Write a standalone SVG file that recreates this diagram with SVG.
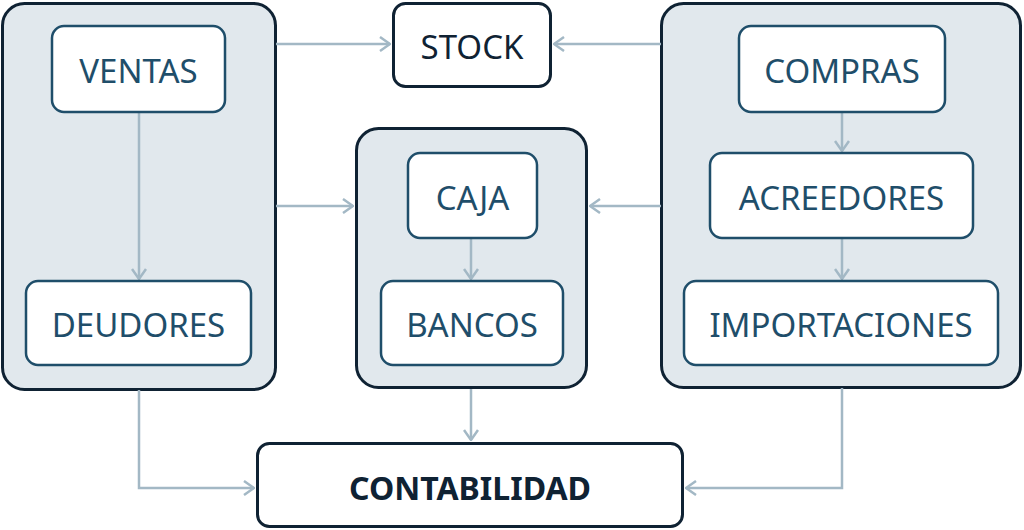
<svg xmlns="http://www.w3.org/2000/svg" width="1024" height="530" viewBox="0 0 1024 530">
<defs>
<style>
.grp{fill:#e1e8ed;stroke:#0f2233;stroke-width:3}
.main{fill:#ffffff;stroke:#0f2233;stroke-width:3}
.sub{fill:#ffffff;stroke:#1f4e6a;stroke-width:2.5}
.t{font-family:"Noto Sans","Open Sans",sans-serif;font-size:33px;fill:#1f4e6a;text-anchor:middle;dominant-baseline:central}
.tb{font-family:"Noto Sans","Open Sans",sans-serif;font-size:32px;font-weight:bold;fill:#0f2233;text-anchor:middle;dominant-baseline:central}
.c{fill:none;stroke:#a3b8c5;stroke-width:2.5;marker-end:url(#ah)}
</style>
<marker id="ah" viewBox="0 0 12 16" refX="11" refY="8" markerWidth="12" markerHeight="16" markerUnits="userSpaceOnUse" orient="auto">
<path d="M1 1 L11 8 L1 15" fill="none" stroke="#a3b8c5" stroke-width="2.5"/>
</marker>
</defs>
<rect width="1024" height="530" fill="#ffffff"/>
<g id="ventas-group">
<rect class="grp" x="2.5" y="3.5" width="273" height="386" rx="22"/>
</g>
<g id="caja-group">
<rect class="grp" x="356.5" y="128.5" width="230" height="259" rx="22"/>
</g>
<g id="compras-group">
<rect class="grp" x="661.5" y="3.5" width="359" height="384" rx="22"/>
</g>
<g id="connectors">
<path class="c" d="M139 112 V279"/>
<path class="c" d="M471 238 V279"/>
<path class="c" d="M842 112 V151"/>
<path class="c" d="M842 238 V279"/>
<path class="c" d="M276 44 H390"/>
<path class="c" d="M661 44 H554"/>
<path class="c" d="M276 206 H353"/>
<path class="c" d="M661 206 H590"/>
<path class="c" d="M471 389 V440"/>
<path class="c" d="M139 390 V488 H254"/>
<path class="c" d="M842 388 V488 H686"/>
</g>
<g id="ventas">
<rect class="sub" x="52" y="26" width="173" height="86" rx="12"/>
<text class="t" x="138.5" y="70">VENTAS</text>
</g>
<g id="deudores">
<rect class="sub" x="26" y="281" width="225" height="84" rx="12"/>
<text class="t" x="138.5" y="324">DEUDORES</text>
</g>
<g id="stock">
<rect class="main" x="393.5" y="3.5" width="157" height="83" rx="12"/>
<text class="t" x="472" y="46" style="fill:#0f2233">STOCK</text>
</g>
<g id="caja">
<rect class="sub" x="408" y="153" width="129" height="85" rx="12"/>
<text class="t" x="472.5" y="197">CAJA</text>
</g>
<g id="bancos">
<rect class="sub" x="381" y="281" width="182" height="84" rx="12"/>
<text class="t" x="472" y="324">BANCOS</text>
</g>
<g id="compras">
<rect class="sub" x="739" y="26" width="206" height="86" rx="12"/>
<text class="t" x="842" y="70">COMPRAS</text>
</g>
<g id="acreedores">
<rect class="sub" x="710" y="153" width="263" height="85" rx="12"/>
<text class="t" x="841.5" y="197">ACREEDORES</text>
</g>
<g id="importaciones">
<rect class="sub" x="684" y="281" width="314" height="84" rx="12"/>
<text class="t" x="841" y="324">IMPORTACIONES</text>
</g>
<g id="contabilidad">
<rect class="main" x="257.5" y="443.5" width="425" height="83" rx="12"/>
<text class="tb" x="470" y="487">CONTABILIDAD</text>
</g>
</svg>
